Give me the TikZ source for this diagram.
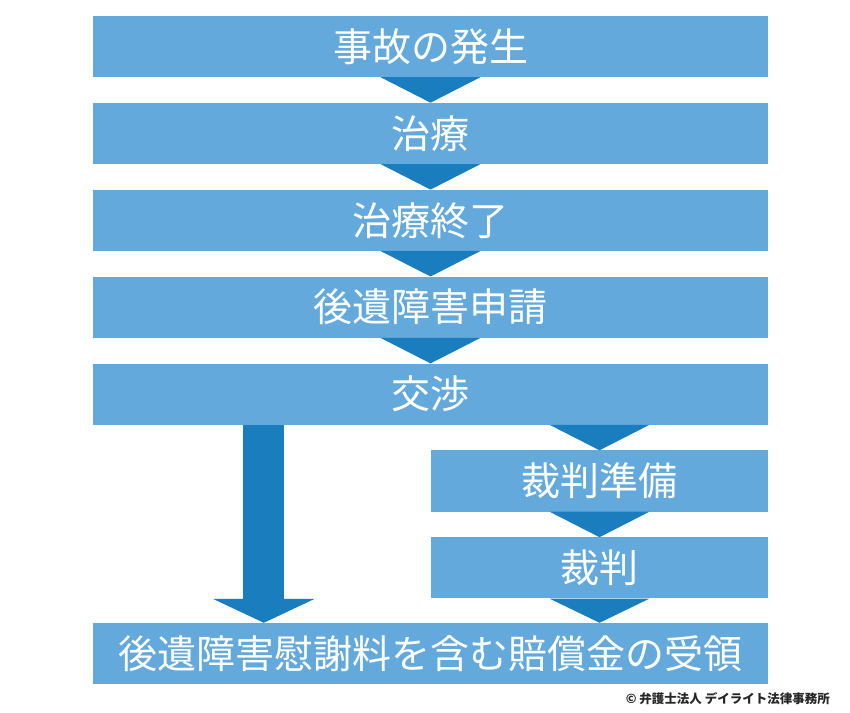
\documentclass[tikz,border=0pt]{standalone}
\usepackage{fontspec}
\setmainfont{Noto Sans CJK JP}
\usepackage{tikz}
\usetikzlibrary{calc, positioning}

\definecolor{boxblue}{HTML}{63A9DC}
\definecolor{arrowblue}{HTML}{1A7EBE}

\tikzset{
  stage/.style={fill=boxblue, text=white, minimum height=61pt, inner sep=0pt,
    font=\fontsize{39}{41}\selectfont},
  wide/.style={stage, minimum width=675pt},
  half/.style={stage, minimum width=337pt},
  flowarrow/.style={fill=arrowblue}
}

\begin{document}
\begin{tikzpicture}[x=1pt, y=1pt]
  \useasboundingbox (0,0) rectangle (850,712);
  % main column
  \node[wide] (accident) at (430.5,665.5) {事故の発生};
  \node[wide, below=25.5pt of accident] (treat) {治療};
  \node[wide, below=25.5pt of treat] (treatend) {治療終了};
  \node[wide, below=25.5pt of treatend] (claim) {後遺障害申請};
  \node[wide, below=25.5pt of claim] (nego) {交渉};
  % court branch
  \node[half, below left=25.5pt and 0pt of nego.south east] (prep) {裁判準備};
  \node[half, below=25.5pt of prep] (trial) {裁判};
  \node[wide, below=198pt of nego] (receipt) {後遺障害慰謝料を含む賠償金の受領};

  % triangle arrows
  \coordinate (tonego) at (nego.south -| prep.north);
  \coordinate (totrial) at (receipt.north -| trial.south);
  \foreach \t/\h in {accident.south/treat.north, treat.south/treatend.north,
      treatend.south/claim.north, claim.south/nego.north,
      tonego/prep.north, prep.south/trial.north, trial.south/totrial}
    \fill[flowarrow] ($(\t)+(-50,0)$) -- ($(\t)+(50,0)$) -- (\h) -- cycle;

  % long arrow: settlement
  \coordinate (shaft) at ($(receipt.north west)+(171,0)$);
  \fill[flowarrow] ($(nego.south -| shaft)+(-20.5,0)$) rectangle ($(shaft)+(20.5,24)$);
  \fill[flowarrow] ($(shaft)+(-51,24)$) -- ($(shaft)+(51,24)$) -- (shaft) -- cycle;

  \node[anchor=east, inner sep=0pt, text=black!85,
    font=\fontsize{12.5}{14}\selectfont\bfseries] (credit) at (830,13)
    {© 弁護士法人 デイライト法律事務所};
\end{tikzpicture}
\end{document}
